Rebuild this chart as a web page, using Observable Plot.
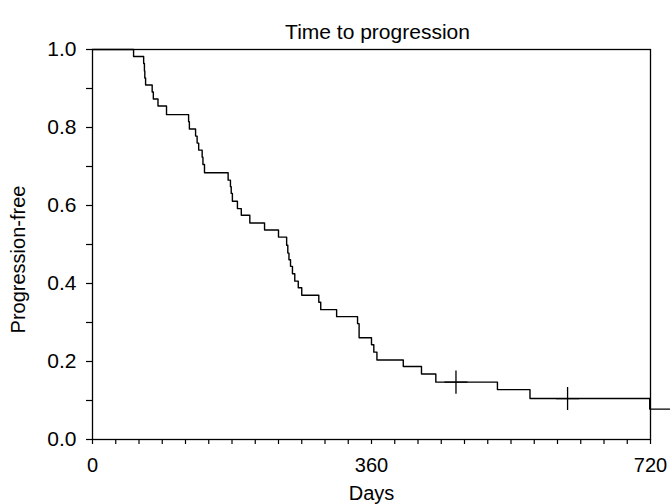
<!DOCTYPE html>
<html>
<head>
<meta charset="utf-8">
<script src="https://cdn.jsdelivr.net/npm/d3@7"></script>
<script src="https://cdn.jsdelivr.net/npm/@observablehq/plot@0.6"></script>
<style>
  html, body { margin: 0; padding: 0; background: white; }
  #chart svg { font-family: "Liberation Sans", Arial, sans-serif; }
</style>
</head>
<body>
<div id="chart"></div>
<script>
// Kaplan-Meier step curve: day of event and progression-free fraction after it
const days = [0, 53, 66, 67, 67.5, 68.5, 77, 78.5, 84.5, 95.5, 124, 125, 133, 135, 137, 141.5, 142.5, 144.5,
  175, 178, 179, 180.5, 187, 192, 203, 222, 240, 250.5, 252, 253.5, 255.5, 258, 261, 265.5, 270,
  292, 294.5, 315, 342, 344, 360, 363, 367, 401, 424.5, 443, 522.5, 564.5, 719, 746];
const survival = [1.0, 0.982, 0.964, 0.945, 0.927, 0.909, 0.891, 0.873, 0.855, 0.833, 0.815, 0.796, 0.778, 0.76, 0.742, 0.724, 0.705, 0.684,
  0.665, 0.648, 0.631, 0.611, 0.592, 0.575, 0.555, 0.537, 0.519, 0.498, 0.478, 0.461, 0.444, 0.425, 0.406, 0.389, 0.37,
  0.352, 0.333, 0.315, 0.297, 0.261, 0.243, 0.224, 0.204, 0.187, 0.168, 0.147, 0.128, 0.105, 0.078, 0.078];
// censored observations
const censorDays = [469, 613];
const censorSurvival = [0.147, 0.105];

const xMajor = [0, 360, 720];
const xMinor = d3.range(30, 720, 30).filter(d => d % 360 !== 0);
const yMajor = [0, 0.2, 0.4, 0.6, 0.8, 1.0];
const yMinor = [0.1, 0.3, 0.5, 0.7, 0.9];

const title = "Time to progression";
const xLabel = "Days";
const yLabel = "Progression-free";

const curve = days.map((d, i) => ({day: d, s: survival[i]}));
const censored = censorDays.map((d, i) => ({day: d, s: censorSurvival[i]}));

const chart = Plot.plot({
  width: 670,
  height: 504,
  marginLeft: 92,
  marginRight: 20,
  marginTop: 49,
  marginBottom: 65,
  style: {fontSize: "20px", fontFamily: "Liberation Sans, Arial, sans-serif", color: "black", background: "white"},
  x: {domain: [0, 720], axis: null},
  y: {domain: [0, 1], axis: null},
  marks: [
    Plot.frame({stroke: "black", strokeWidth: 1.3}),
    Plot.axisY({ticks: yMajor, tickFormat: d3.format(".1f"), tickSize: 6, tickPadding: 10, fontSize: 21, label: null, stroke: "black", strokeWidth: 1.2}),
    Plot.axisY({ticks: yMinor, tickFormat: () => "", tickSize: 6, label: null, stroke: "black", strokeWidth: 1.2}),
    Plot.axisX({ticks: xMajor, tickFormat: d => String(d), tickSize: 5, tickPadding: 13, label: null, stroke: "black", strokeWidth: 1.2}),
    Plot.axisX({ticks: xMinor, tickFormat: () => "", tickSize: 5, label: null, stroke: "black", strokeWidth: 1.2}),
    Plot.line(curve, {x: "day", y: "s", curve: "step-after", stroke: "black", strokeWidth: 1.4}),
    Plot.dot(censored, {x: "day", y: "s", symbol: "plus", r: 7.5, stroke: "black", strokeWidth: 1.3}),
    Plot.text([title], {frameAnchor: "top", dx: 6, dy: -25, fontSize: 21, fill: "black"}),
    Plot.text([xLabel], {frameAnchor: "bottom", dy: 60, fontSize: 20, fill: "black"}),
    Plot.text([yLabel], {frameAnchor: "left", textAnchor: "middle", rotate: -90, dx: -74, dy: 15, fontSize: 20, fill: "black"})
  ]
});
document.getElementById("chart").appendChild(chart);
</script>
</body>
</html>
